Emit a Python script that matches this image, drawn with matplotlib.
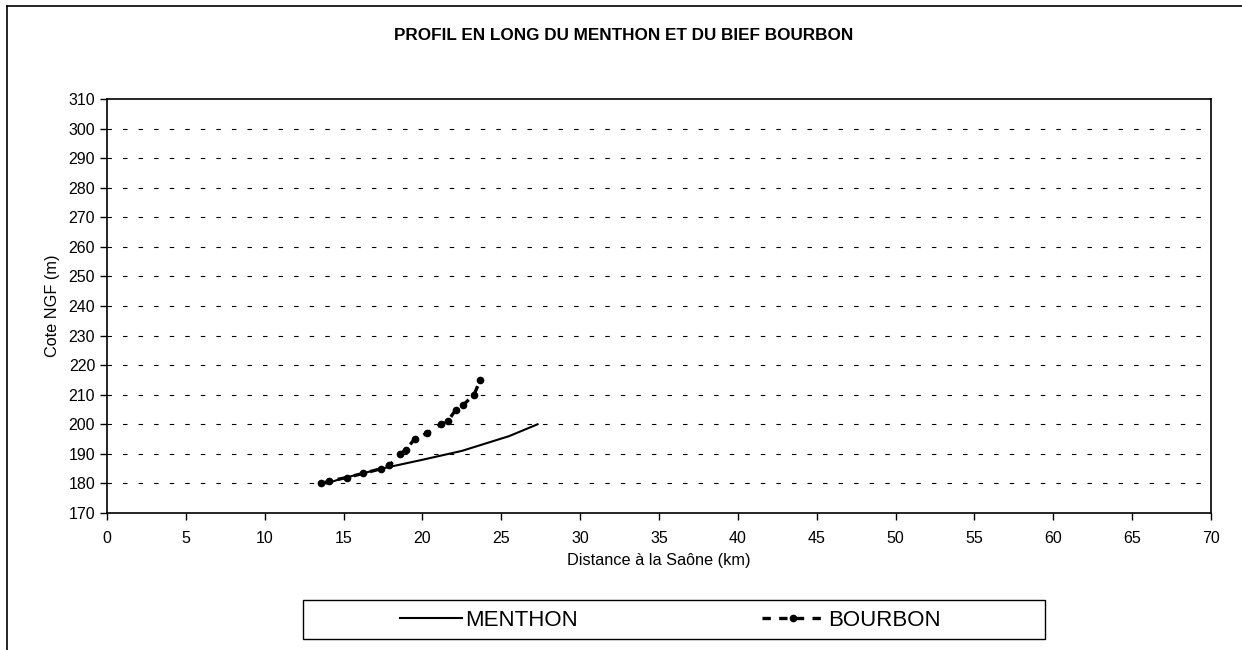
import matplotlib
matplotlib.use("Agg")
import matplotlib.pyplot as plt
from matplotlib.patches import Rectangle
from matplotlib.lines import Line2D

plt.rcParams['font.family'] = ['Liberation Sans', 'DejaVu Sans']

title = "PROFIL EN LONG DU MENTHON ET DU BIEF BOURBON"
xlabel = "Distance à la Saône (km)"
ylabel = "Cote NGF (m)"

menthon_x = [13.9, 15.0, 17.4, 20.0, 22.5, 24.0, 25.5, 27.3]
menthon_y = [180.0, 181.8, 185.0, 188.0, 191.0, 193.5, 196.0, 200.0]

bourbon_x = [13.6, 14.1, 15.2, 16.25, 17.4, 17.9, 18.6, 18.95, 19.5, 20.3, 21.2, 21.6, 22.1, 22.6, 23.27, 23.67]
bourbon_y = [180.0, 180.8, 182.0, 183.4, 185.0, 186.1, 190.0, 191.4, 195.0, 197.0, 200.0, 201.0, 204.8, 206.6, 210.0, 215.0]

xticks = list(range(0, 71, 5))
yticks = list(range(170, 311, 10))

W, H = 1242, 650
fig = plt.figure(figsize=(W / 100, H / 100), dpi=100)

# outer chart border (only left and top visible)
fig.add_artist(Line2D([7 / W, 7 / W], [0, 1 - 6 / H], transform=fig.transFigure, color='black', lw=1.2))
fig.add_artist(Line2D([7 / W, 1], [1 - 6 / H, 1 - 6 / H], transform=fig.transFigure, color='black', lw=1.2))

left, right, top, bottom = 107, 1211, 99, 513
ax = fig.add_axes([left / W, 1 - bottom / H, (right - left) / W, (bottom - top) / H])

for y in yticks[1:-1]:
    ax.axhline(y, color='black', lw=0.8, linestyle=(0, (4, 10)), zorder=1)

ax.plot(menthon_x, menthon_y, color='black', lw=1.5, zorder=3, label='MENTHON')
ax.plot(bourbon_x, bourbon_y, color='black', lw=2.4, linestyle=(0, (2.5, 2.5)),
        marker='o', markersize=4.5, zorder=4, label='BOURBON')

ax.set_xlim(0, 70)
ax.set_ylim(170, 310)
ax.set_xticks(xticks)
ax.set_yticks(yticks)
ax.tick_params(axis='both', direction='out', length=5, width=1, labelsize=11.5, colors='black')
ax.tick_params(axis='x', pad=8)
for s in ax.spines.values():
    s.set_linewidth(1.2)
    s.set_color('black')

ax.set_xlabel(xlabel, fontsize=11.7, labelpad=5)
ax.set_ylabel(ylabel, fontsize=11.7, labelpad=6)

fig.text(624 / W, 1 - 35 / H, title, ha='center', va='center',
         fontsize=12.3, fontweight='bold')

# legend box
fig.add_artist(Rectangle((303 / W, 1 - 639 / H), (1045 - 303) / W, (639 - 600) / H,
                         transform=fig.transFigure, fill=False, edgecolor='black', lw=1.0))
leg = fig.legend(loc='center', bbox_to_anchor=(670 / W, 1 - 620 / H), ncol=2, frameon=False,
                 fontsize=16, handlelength=2.8, handletextpad=0.15, columnspacing=8.3,
                 borderpad=0.2)

fig.savefig('out.png', dpi=100, facecolor='white')
